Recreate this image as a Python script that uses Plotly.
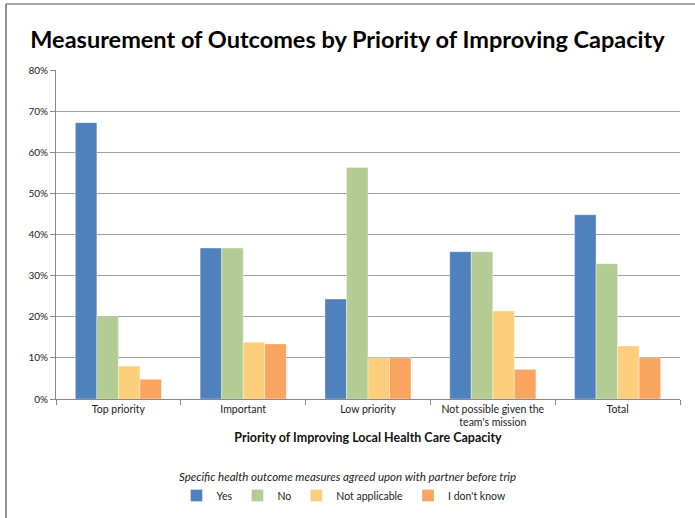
import plotly.graph_objects as go

# Priority categories and response shares (fractions)
categories = ["Top priority", "Important", "Low priority",
              "Not possible given the<br>team's mission", "Total"]
yes = [0.672, 0.367, 0.243, 0.358, 0.448]
no = [0.200, 0.367, 0.563, 0.358, 0.329]
not_applicable = [0.080, 0.138, 0.100, 0.214, 0.129]
dont_know = [0.048, 0.134, 0.100, 0.072, 0.100]

series_names = ["Yes", "No", "Not applicable", "I don't know"]
series_values = [yes, no, not_applicable, dont_know]
series_colors = ["#4F81BD", "#B3CC94", "#FDCE7C", "#F9A45F"]
y_ticks = [0, 0.1, 0.2, 0.3, 0.4, 0.5, 0.6, 0.7, 0.8]

W, H = 695, 518
L, R, T, B = 56, 15, 70, 119
FONT = "Lato"

fig = go.Figure()
for name, vals, col in zip(series_names, series_values, series_colors):
    fig.add_trace(go.Bar(
        name=name, x=categories, y=vals,
        marker=dict(color=col, line=dict(color="rgba(255,255,255,0.6)", width=0.6)),
    ))

pw, ph = W - L - R, H - T - B
# thin frame along the left and top edges of the chart area
fx = (6 - L) / pw
fy = 1 + (T - 4) / ph
fig.add_shape(type="line", xref="paper", yref="paper", x0=fx, x1=fx, y0=fy, y1=-(B + 5) / ph,
              line=dict(color="#6E6E6E", width=1.5))
fig.add_shape(type="line", xref="paper", yref="paper", x0=fx, x1=(W - L + 5) / pw, y0=fy, y1=fy,
              line=dict(color="#8A8A8A", width=1.5))

fig.update_layout(
    width=W, height=H,
    margin=dict(l=L, r=R, t=T, b=B),
    paper_bgcolor="white", plot_bgcolor="white",
    font=dict(family=FONT, color="#222222", size=10),
    barmode="group", bargap=0.31, bargroupgap=0,
    title=dict(text="<b>Measurement of Outcomes by Priority of Improving Capacity</b>",
               x=0.5, xref="container", xanchor="center", y=1 - 40 / H, yanchor="middle",
               font=dict(family=FONT, size=23.5, color="#000000")),
    xaxis=dict(
        tickson="boundaries", ticks="outside", ticklen=5, tickcolor="#888888",
        showline=True, linecolor="#888888", linewidth=1,
        tickfont=dict(size=10.5, color="#222222"),
        title=dict(text="<b>Priority of Improving Local Health Care Capacity</b>",
                   font=dict(size=12.5, color="#111111"), standoff=5),
    ),
    yaxis=dict(
        range=[0, 0.8], tickvals=y_ticks, tickformat=".0%",
        ticks="outside", ticklen=5, tickcolor="#888888",
        showline=True, linecolor="#888888", linewidth=1,
        showgrid=True, gridcolor="#A0A0A0", gridwidth=1,
        tickfont=dict(size=10, color="#222222"), zeroline=False,
    ),
    legend=dict(
        orientation="h", xref="container", x=0.5, xanchor="center",
        yref="container", y=1 - 466 / H, yanchor="top",
        title=dict(text="<i>Specific health outcome measures agreed upon with partner before trip</i>",
                   side="top center", font=dict(size=11.5, color="#222222")),
        font=dict(size=10.5, color="#222222"),
        itemwidth=30, tracegroupgap=0,
    ),
)

fig.write_html("out.html")
